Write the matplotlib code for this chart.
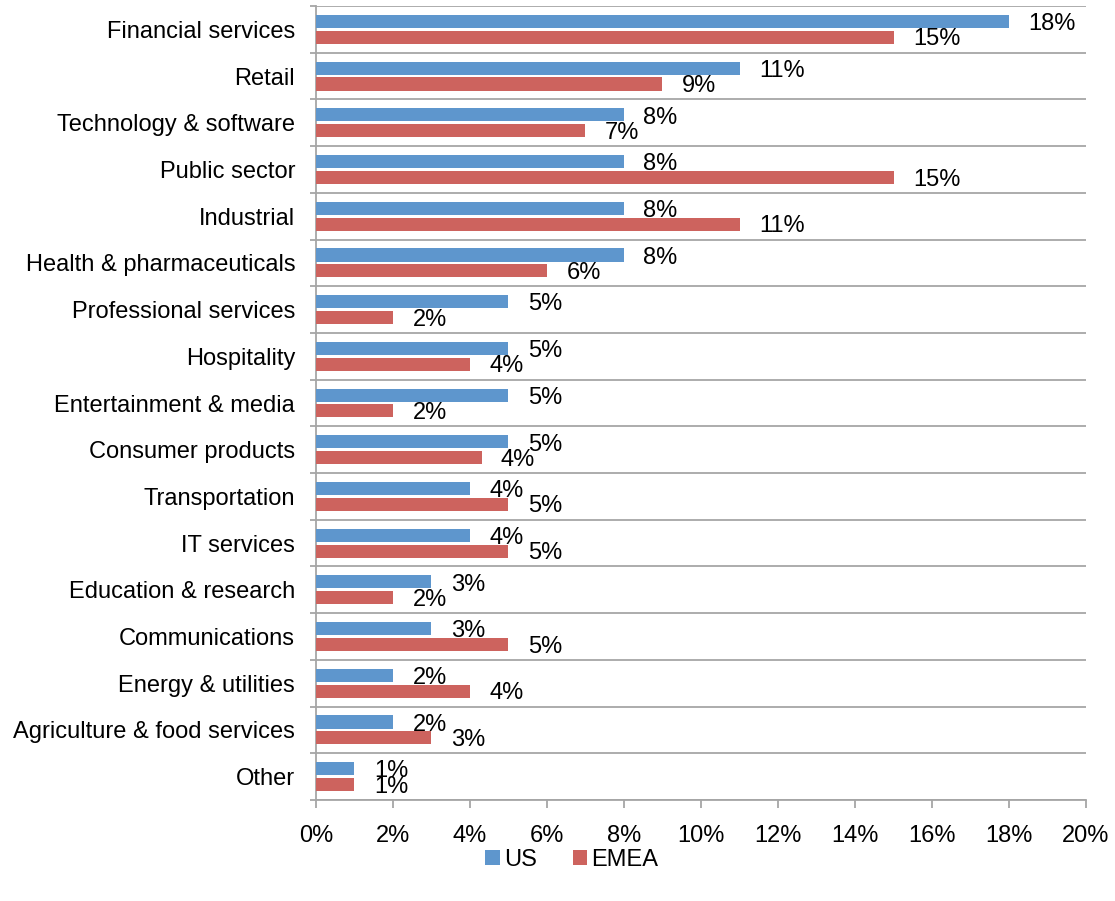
import matplotlib
matplotlib.use("Agg")
import matplotlib.pyplot as plt
import numpy as np

plt.rcParams['font.family'] = ['Liberation Sans', 'DejaVu Sans']

# Data
categories = [
    "Financial services", "Retail", "Technology & software", "Public sector",
    "Industrial", "Health & pharmaceuticals", "Professional services",
    "Hospitality", "Entertainment & media", "Consumer products",
    "Transportation", "IT services", "Education & research",
    "Communications", "Energy & utilities", "Agriculture & food services",
    "Other",
]
us = [18, 11, 8, 8, 8, 8, 5, 5, 5, 5, 4, 4, 3, 3, 2, 2, 1]
emea = [15, 9, 7, 15, 11, 6, 2, 4, 2, 4.3, 5, 5, 2, 5, 4, 3, 1]
x_ticks = [0, 2, 4, 6, 8, 10, 12, 14, 16, 18, 20]

blue = "#5E96CD"
red = "#CD635E"
grid_col = "#A6A6A6"
fs = 17

fig = plt.figure(figsize=(11.15, 9.01), dpi=100)
ax = fig.add_axes([0.2834, 0.1121, 0.6906, 0.8812])

y = np.arange(len(categories))
off = 0.17
h = 0.28
b1 = ax.barh(y - off, us, height=h, color=blue, label="US", zorder=3)
b2 = ax.barh(y + off, emea, height=h, color=red, label="EMEA", zorder=3)

# data labels, a bit right of each bar end
for yy, v in zip(y - off, us):
    ax.annotate(f"{v:.0f}%", (v, yy), xytext=(14, -2), textcoords="offset points",
                ha="left", va="center", fontsize=fs)
for yy, v in zip(y + off, emea):
    ax.annotate(f"{v:.0f}%", (v, yy), xytext=(14, -1.5), textcoords="offset points",
                ha="left", va="center", fontsize=fs)

ax.set_xlim(0, 20)
ax.set_ylim(len(categories) - 0.5, -0.5)
ax.set_xticks(x_ticks)
ax.set_xticklabels([f"{t}%" for t in x_ticks], fontsize=fs)
ax.set_yticks(y)
ax.set_yticklabels(categories, fontsize=fs)
ax.set_yticks(np.arange(len(categories) + 1) - 0.5, minor=True)

ax.tick_params(axis="y", which="major", length=0, pad=15)
ax.tick_params(axis="y", which="minor", length=4, color=grid_col, width=1.3)
ax.tick_params(axis="x", length=6, color=grid_col, width=1.3, pad=12)

ax.grid(axis="y", which="minor", color=grid_col, linewidth=1.3, zorder=0)
ax.grid(axis="y", which="major", visible=False)

for s in ["top", "right"]:
    ax.spines[s].set_visible(False)
for s in ["left", "bottom"]:
    ax.spines[s].set_color(grid_col)
    ax.spines[s].set_linewidth(1.3)

fig.legend(handles=[b1, b2], labels=["US", "EMEA"], loc="center",
           bbox_to_anchor=(0.513, 0.046), ncol=2, frameon=False, fontsize=fs,
           handlelength=0.6, handleheight=0.6, handletextpad=0.2, columnspacing=1.5)

fig.savefig("out.png", dpi=100)
